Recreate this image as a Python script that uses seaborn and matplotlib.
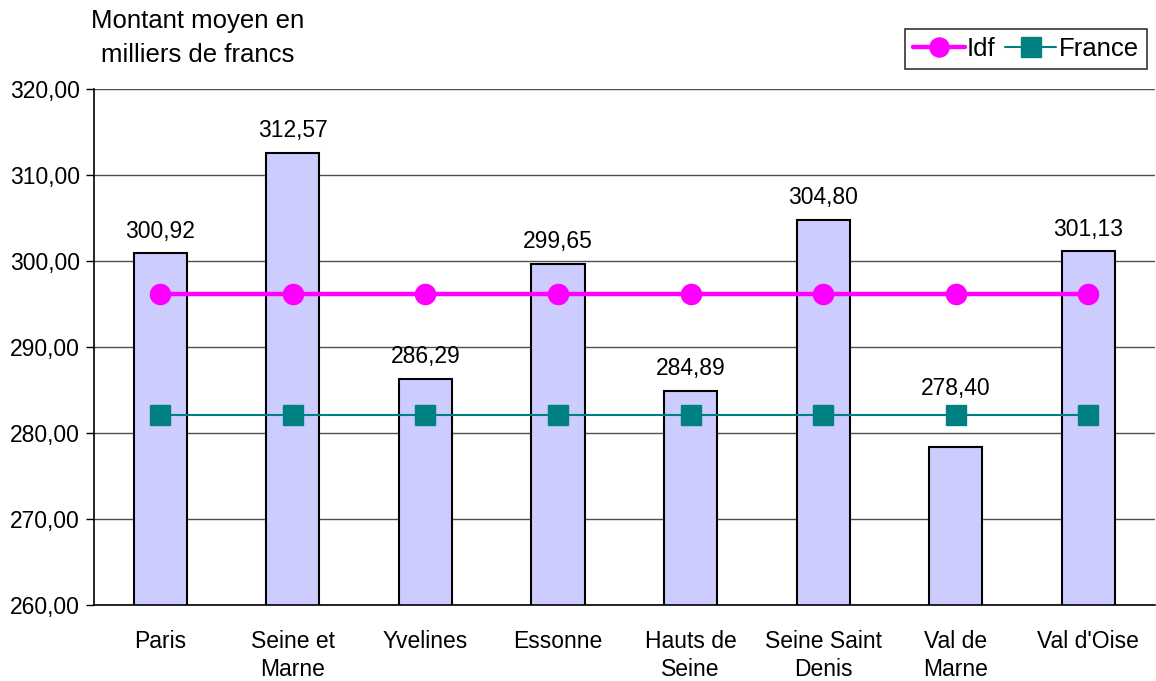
import numpy as np
import matplotlib
matplotlib.use("Agg")
import matplotlib.pyplot as plt
import seaborn as sns

# Data
departements = ["Paris", "Seine et\nMarne", "Yvelines", "Essonne", "Hauts de\nSeine",
                "Seine Saint\nDenis", "Val de\nMarne", "Val d'Oise"]
montants = [300.92, 312.57, 286.29, 299.65, 284.89, 304.80, 278.40, 301.13]
idf = [296.16] * 8
france = [282.06] * 8
y_ticks = [260, 270, 280, 290, 300, 310, 320]

sns.set_style("white")
plt.rcParams['font.family'] = ['Liberation Sans', 'DejaVu Sans']
plt.rcParams['text.color'] = "black"
plt.rcParams['xtick.color'] = "black"
plt.rcParams['ytick.color'] = "black"

fig = plt.figure(figsize=(11.56, 6.81), dpi=100)
ax = fig.add_axes([0.0813, 0.1116, 0.9175, 0.7577])

# grid behind bars
for v in y_ticks:
    ax.axhline(v, color="#505050", lw=1.0, zorder=0)

sns.barplot(x=departements, y=montants, color="#CCCCFF", edgecolor="black",
            linewidth=1.5, width=0.4, saturation=1, ax=ax, zorder=2)

xs = np.arange(len(departements))
ax.plot(xs, idf, color="#FF00FF", lw=3.2, marker="o", markersize=14.5, label="Idf", zorder=4)
ax.plot(xs, france, color="#008080", lw=1.5, marker="s", markersize=14.5, label="France", zorder=4)

# value labels, lifted above the France marker when the bar is below it
for x, v, f in zip(xs, montants, france):
    y = max(v, f + 0.6) + 2.56
    ax.text(x, y, f"{v:.2f}".replace(".", ","), ha="center", va="center", fontsize=16.5)

ax.set_ylim(260, 320)
ax.set_xlim(-0.5, 7.5)
ax.set_yticks(y_ticks)
ax.set_yticklabels([f"{v:.2f}".replace(".", ",") for v in y_ticks], fontsize=16.5)
ax.set_xticks(xs)
ax.set_xticklabels(departements, fontsize=16.5, linespacing=1.25)
ax.set_xticks(np.arange(-0.5, 8, 1), minor=True)
ax.tick_params(axis="x", which="major", length=0, pad=18)
ax.tick_params(axis="x", which="minor", length=6, width=1, color="black", direction="out")
ax.tick_params(axis="y", length=6, width=1, color="black", direction="out", left=True, pad=4)
ax.set_xlabel("")
ax.set_ylabel("")

for s in ["top", "right"]:
    ax.spines[s].set_visible(False)
for s in ["left", "bottom"]:
    ax.spines[s].set_color("black")
    ax.spines[s].set_linewidth(1.2)

fig.text(0.171, 0.987, "Montant moyen en\nmilliers de francs", ha="center", va="top",
         fontsize=18.5, linespacing=1.52)

leg = ax.legend(loc="upper right", bbox_to_anchor=(0.9925, 1.116), ncol=2, fontsize=18.5,
                frameon=True, fancybox=False, edgecolor="black", handlelength=2.0,
                columnspacing=0.35, handletextpad=0.1, borderpad=0.3, borderaxespad=0,
                markerscale=0.95)
leg.get_frame().set_linewidth(1.2)

fig.savefig("out.png", dpi=100)
